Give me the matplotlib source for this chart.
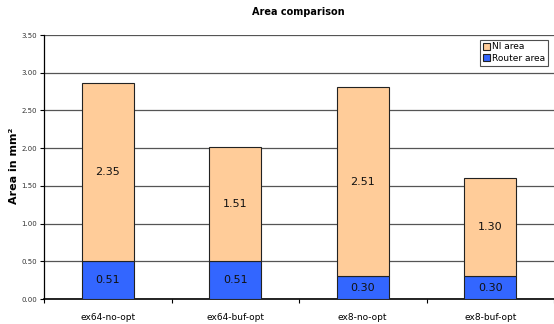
from matplotlib import pyplot as plt
import numpy as np

# stacked area per configuration
configs = ['ex64-no-opt', 'ex64-buf-opt', 'ex8-no-opt', 'ex8-buf-opt']
router_area = [0.51, 0.51, 0.30, 0.30]
ni_area = [2.35, 1.51, 2.51, 1.30]
yticks = [0.0, 0.5, 1.0, 1.5, 2.0, 2.5, 3.0, 3.5]

fig = plt.figure(figsize=(5.54, 3.24), dpi=100)
ax = fig.add_axes([44 / 554, 25 / 324, 510 / 554, 264 / 324])

x = np.arange(len(configs))
w = 0.41
b1 = ax.bar(x, router_area, w, color='#3366FF', edgecolor='#222222', linewidth=0.8,
            label='Router area', zorder=3)
b2 = ax.bar(x, ni_area, w, bottom=router_area, color='#FFCC99', edgecolor='#222222',
            linewidth=0.8, label='NI area', zorder=3)

for i in range(len(configs)):
    ax.text(x[i], router_area[i] / 2, '%.2f' % router_area[i], ha='center', va='center',
            fontsize=8, color='#111111', zorder=4)
    ax.text(x[i], router_area[i] + ni_area[i] / 2, '%.2f' % ni_area[i], ha='center',
            va='center', fontsize=8, color='#111111', zorder=4)

ax.set_xlim(-0.5, len(configs) - 0.5)
ax.set_ylim(0, 3.5)
ax.set_yticks(yticks)
ax.set_yticklabels(['%.2f' % v for v in yticks], fontsize=5, color='#333333')
ax.set_xticks(x)
ax.set_xticklabels(configs, fontsize=6.5)
ax.set_xticks(np.arange(len(configs) + 1) - 0.5, minor=True)
ax.tick_params(axis='x', which='major', length=0, pad=10)
ax.tick_params(axis='x', which='minor', length=3, width=0.8)
ax.tick_params(axis='y', length=3, width=0.8, pad=2)
ax.yaxis.grid(True, color='#555555', linewidth=0.9, zorder=0)
for s in ['top', 'right']:
    ax.spines[s].set_visible(False)
ax.spines['left'].set_linewidth(0.9)
ax.spines['bottom'].set_linewidth(1.2)

# y label as figure text so it sits left of the tick labels
fig.text(14 / 554, 1 - 166 / 324, 'Area in mm\u00b2', rotation=90, ha='center',
         va='center', fontsize=8, fontweight='bold')
fig.text(298 / 554, 1 - 12 / 324, 'Area comparison', ha='center', va='center',
         fontsize=7, fontweight='bold')

leg = ax.legend(handles=[b2, b1], loc='upper right', fontsize=6.5, frameon=True,
                fancybox=False, edgecolor='#222222', handlelength=0.8, handleheight=0.8,
                handletextpad=0.2, borderpad=0.3, labelspacing=0.3,
                bbox_to_anchor=(0.997, 1.0))
leg.get_frame().set_linewidth(0.8)

plt.savefig('out.png', dpi=100)
